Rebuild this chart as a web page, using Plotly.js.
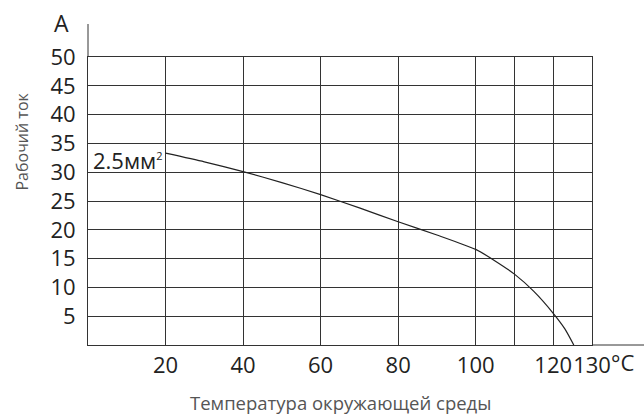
<!DOCTYPE html>
<html>
<head>
<meta charset="utf-8">
<script src="https://cdn.plot.ly/plotly-3.0.1.min.js"></script>
<style>html,body{margin:0;padding:0;background:#fff;}#chart{width:644px;height:414px;}</style>
</head>
<body>
<div id="chart"></div>
<script>
// Data
const temperature = [20, 30, 40, 50, 60, 70, 80, 90, 100, 105, 110, 115, 120, 123, 125.3];
const current = [33.3, 31.8, 30.1, 28.2, 26.1, 23.8, 21.4, 19.1, 16.6, 14.6, 12.3, 9.3, 5.5, 2.8, 0];
const xTickVals = [20, 40, 60, 80, 100, 110, 120, 130];
const xTickText = ["20", "40", "60", "80", "100", "", "120", "130"];
const yTickVals = [5, 10, 15, 20, 25, 30, 35, 40, 45, 50];
const yTickText = ["5", "10", "15", "20", "25", "30", "35", "40", "45", "50"];
const seriesLabel = "2.5мм<sup><span style=\"font-size:11px\">2</span></sup>";
const xTitle = "Температура окружающей среды";
const yTitle = "Рабочий ток";
const yUnit = "A";
const xUnit = "°C";

const FONT = "Open Sans, Noto Sans, sans-serif";
const GRID = "#333";

const trace = {
  x: temperature, y: current, type: "scatter", mode: "lines",
  line: {color: "#222", width: 1.2, shape: "spline", smoothing: 0.6},
  hoverinfo: "skip", showlegend: false
};

const layout = {
  width: 644, height: 414,
  margin: {l: 88, r: 52, t: 57, b: 69, pad: 0},
  paper_bgcolor: "#fff", plot_bgcolor: "#fff",
  font: {family: FONT, color: "#222"},
  showlegend: false,
  xaxis: {
    range: [0, 130], tickmode: "array", tickvals: xTickVals, ticktext: xTickText,
    tickangle: 0, automargin: false,
    showgrid: true, gridcolor: GRID, gridwidth: 1,
    showline: true, linecolor: GRID, linewidth: 1, mirror: true,
    zeroline: false, ticks: "", tickfont: {family: FONT, size: 22, color: "#222"},
    ticklabelstandoff: 1, fixedrange: true
  },
  yaxis: {
    range: [0, 50], tickmode: "array", tickvals: yTickVals, ticktext: yTickText,
    automargin: false,
    showgrid: true, gridcolor: GRID, gridwidth: 1,
    showline: true, linecolor: GRID, linewidth: 1, mirror: true,
    zeroline: false, ticks: "", tickfont: {family: FONT, size: 22, color: "#222"},
    ticklabelstandoff: 7, fixedrange: true
  },
  shapes: [
    {type: "line", xref: "paper", yref: "paper", x0: 1, x1: 1 + 52 / 504, y0: 0, y1: 0, line: {color: GRID, width: 1}},
    {type: "line", xref: "paper", yref: "paper", x0: 0, x1: 0, y0: 1, y1: 1 + 33 / 288, line: {color: GRID, width: 1}}
  ],
  annotations: [
    {text: seriesLabel, xref: "x", yref: "y", x: 0, y: 32.2, xanchor: "left", yanchor: "middle", xshift: 3,
     showarrow: false, font: {family: FONT, size: 22, color: "#222"}},
    {text: yUnit, xref: "paper", yref: "paper", x: 0, y: 1, xanchor: "center", yanchor: "middle", xshift: -27, yshift: 34,
     showarrow: false, font: {family: FONT, size: 23, color: "#222"}},
    {text: xUnit, xref: "x", yref: "paper", x: 130, y: 0, xanchor: "left", yanchor: "middle", xshift: 17, yshift: -17,
     showarrow: false, font: {family: FONT, size: 22, color: "#222"}},
    {text: xTitle, xref: "paper", yref: "paper", x: 0.5, y: 0, xanchor: "center", yanchor: "middle", yshift: -57,
     showarrow: false, font: {family: FONT, size: 18.5, color: "#555"}},
    {text: yTitle, xref: "paper", yref: "paper", x: 0, y: (345 - 141.5) / 288, xanchor: "center", yanchor: "middle", xshift: -67,
     textangle: -90, showarrow: false, font: {family: FONT, size: 16, color: "#555"}}
  ]
};

Plotly.newPlot("chart", [trace], layout, {displayModeBar: false, staticPlot: true});
</script>
</body>
</html>
